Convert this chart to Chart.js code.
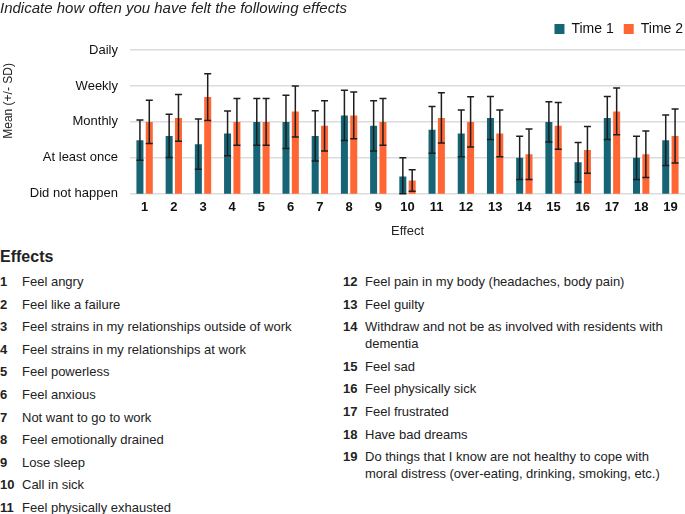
<!DOCTYPE html>
<html>
<head>
<meta charset="utf-8">
<script src="https://cdn.jsdelivr.net/npm/chart.js@4"></script>
<style>
  body { margin: 0; background: #fff; font-family: "Liberation Sans", Arial, sans-serif; color: #222; }
  #wrap { position: relative; width: 685px; height: 514px; overflow: hidden; }
  #chartBox { position: absolute; left: 0; top: 0; width: 685px; height: 242px; }
  #effects { position: absolute; left: 0; top: 248px; font-weight: bold; font-size: 16px; }
  .col { position: absolute; top: 273px; font-size: 13px; }
  .col .it { display: flex; line-height: 17px; margin-bottom: 5.6px; }
  .col .n { width: 22px; flex: none; font-weight: bold; }
  #left { left: 0; width: 330px; }
  #right { left: 343px; width: 335px; }
</style>
</head>
<body>
<div id="wrap">
  <div id="chartBox"><canvas id="effectChart"></canvas></div>
  <div id="effects">Effects</div>
  <div class="col" id="left"></div>
  <div class="col" id="right"></div>
</div>
<script>
const categories = ['1','2','3','4','5','6','7','8','9','10','11','12','13','14','15','16','17','18','19'];
const time1 = [2.49, 2.61, 2.38, 2.68, 3.0, 3.0, 2.61, 3.18, 2.89, 1.48, 2.78, 2.68, 3.11, 2.0, 3.0, 1.88, 3.11, 2.0, 2.49];
const time1Sd = [0.56, 0.6, 0.7, 0.62, 0.65, 0.74, 0.7, 0.7, 0.7, 0.52, 0.65, 0.65, 0.6, 0.6, 0.56, 0.55, 0.6, 0.6, 0.7];
const time2 = [3.0, 3.11, 3.69, 3.0, 3.0, 3.29, 2.89, 3.18, 3.0, 1.37, 3.11, 3.0, 2.68, 2.1, 2.89, 2.22, 3.29, 2.1, 2.61];
const time2Sd = [0.6, 0.65, 0.65, 0.65, 0.65, 0.71, 0.7, 0.65, 0.65, 0.3, 0.7, 0.7, 0.65, 0.7, 0.65, 0.65, 0.65, 0.65, 0.75];
const freqLabels = ['Did not happen', 'At least once', 'Monthly', 'Weekly', 'Daily'];
const effectNames = [
  'Feel angry', 'Feel like a failure', 'Feel strains in my relationships outside of work',
  'Feel strains in my relationships at work', 'Feel powerless', 'Feel anxious',
  'Not want to go to work', 'Feel emotionally drained', 'Lose sleep', 'Call in sick',
  'Feel physically exhausted', 'Feel pain in my body (headaches, body pain)', 'Feel guilty',
  'Withdraw and not be as involved with residents with dementia', 'Feel sad',
  'Feel physically sick', 'Feel frustrated', 'Have bad dreams',
  'Do things that I know are not healthy to cope with moral distress (over-eating, drinking, smoking, etc.)'
];

// effect key below the chart
effectNames.forEach((name, i) => {
  const col = document.getElementById(i < 11 ? 'left' : 'right');
  const row = document.createElement('div');
  row.className = 'it';
  row.innerHTML = '<span class="n">' + categories[i] + '</span><span>' + name + '</span>';
  col.appendChild(row);
});

const font = '"Liberation Sans", Arial, sans-serif';
const sdLists = [time1Sd, time2Sd];

// whiskers for mean +/- SD
const errorBars = {
  id: 'errorBars',
  afterDatasetsDraw(chart) {
    const ctx = chart.ctx;
    const y = chart.scales.y;
    ctx.save();
    ctx.strokeStyle = '#1e1e1e';
    ctx.lineWidth = 1.5;
    chart.data.datasets.forEach((ds, d) => {
      chart.getDatasetMeta(d).data.forEach((bar, i) => {
        const v = ds.data[i], sd = sdLists[d][i];
        const top = y.getPixelForValue(v + sd);
        const bot = y.getPixelForValue(Math.max(v - sd, y.min));
        ctx.beginPath();
        ctx.moveTo(bar.x, top); ctx.lineTo(bar.x, bot);
        ctx.moveTo(bar.x - 3.5, top); ctx.lineTo(bar.x + 3.5, top);
        ctx.moveTo(bar.x - 3.5, bot); ctx.lineTo(bar.x + 3.5, bot);
        ctx.stroke();
      });
    });
    ctx.restore();
  }
};

// small gap between legend and plot, legend pushed to the right edge,
// and the y title sitting a bit above the middle of the plot like the original
const spacing = {
  id: 'spacing',
  afterInit(chart) {
    Chart.layouts.addBox(chart, {
      position: 'top', weight: 0, fullSize: true, options: {},
      isHorizontal() { return true; },
      update(w) { this.width = w; this.height = 4; },
      draw() {}
    });
  },
  afterLayout(chart) {
    chart.legend.left += 8;
    chart.legend.right += 8;
  },
  afterDraw(chart) {
    const ctx = chart.ctx;
    const a = chart.chartArea;
    ctx.save();
    ctx.translate(8.5, (a.top + a.bottom) / 2 - 21);
    ctx.rotate(-Math.PI / 2);
    ctx.textAlign = 'center';
    ctx.textBaseline = 'middle';
    ctx.fillStyle = '#222';
    ctx.font = '12px ' + font;
    ctx.fillText('Mean (+/- SD)', 0, 0);
    ctx.restore();
  }
};

new Chart(document.getElementById('effectChart'), {
  type: 'bar',
  data: {
    labels: categories,
    datasets: [
      { label: 'Time 1', data: time1, backgroundColor: '#166576' },
      { label: 'Time 2', data: time2, backgroundColor: '#ff6633' }
    ]
  },
  options: {
    responsive: true,
    maintainAspectRatio: false,
    animation: false,
    categoryPercentage: 0.64,
    barPercentage: 0.75,
    layout: { padding: { left: 0, right: 0, top: 0, bottom: 3 } },
    scales: {
      x: {
        grid: { display: false, drawTicks: false },
        border: { display: false },
        ticks: { color: '#111', font: { family: font, size: 13, weight: 'bold' }, padding: 6 },
        title: { display: true, text: 'Effect', color: '#222', font: { family: font, size: 13 }, padding: { top: 2, bottom: 0 } }
      },
      y: {
        min: 1,
        max: 5,
        afterFit(scale) { scale.width = 130; },
        grid: { color: '#dcdcdc', lineWidth: 1.5, drawTicks: false },
        border: { display: false },
        ticks: {
          stepSize: 1,
          padding: 12,
          color: '#111',
          font: { family: font, size: 13 },
          callback: v => freqLabels[v - 1]
        },
        title: { display: false }
      }
    },
    plugins: {
      title: {
        display: true,
        text: 'Indicate how often you have felt the following effects',
        align: 'start',
        color: '#222',
        font: { family: font, size: 15, style: 'italic', weight: 'normal' },
        padding: { top: 0, bottom: -6 }
      },
      legend: {
        align: 'end',
        labels: {
          boxWidth: 10,
          boxHeight: 10,
          color: '#111',
          font: { family: font, size: 14 },
          padding: 10
        }
      },
      tooltip: { enabled: false }
    }
  },
  plugins: [errorBars, spacing]
});
</script>
</body>
</html>
